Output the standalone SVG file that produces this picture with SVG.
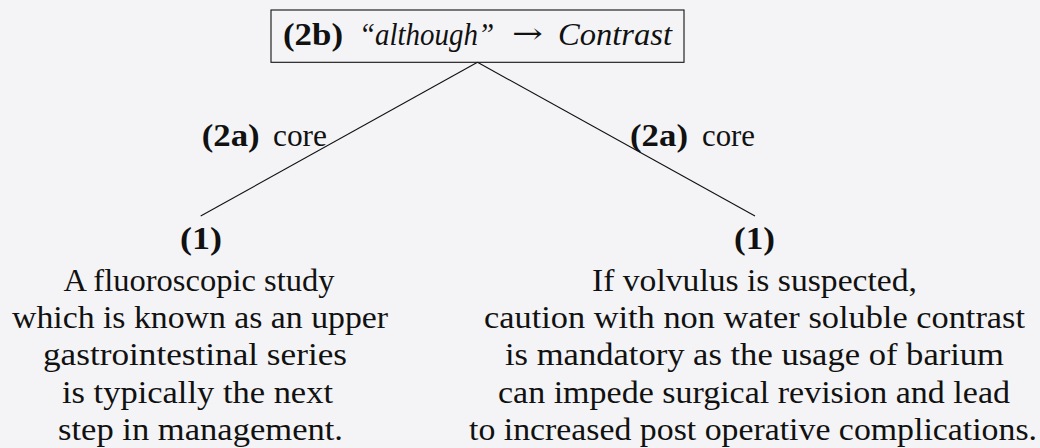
<svg xmlns="http://www.w3.org/2000/svg" width="1040" height="448" viewBox="0 0 1040 448">
<style>
.t{font-family:"Liberation Serif","Times New Roman",serif;font-size:30.5px;fill:#111}
.b{font-weight:bold}
.i{font-style:italic}
.m{text-anchor:middle}
.arr{font-family:"DejaVu Serif",serif;font-size:28px;fill:#111}
.edge{stroke:#111;stroke-width:1.1;fill:none}
</style>
<rect width="1040" height="448" fill="#f4f4f6"/>
<g id="connectors">
<line class="edge" x1="477.5" y1="62.3" x2="200.7" y2="216"/>
<line class="edge" x1="477.5" y1="62.3" x2="755" y2="216"/>
<text class="t b" x="201.7" y="146" textLength="58" lengthAdjust="spacingAndGlyphs">(2a)</text>
<text class="t" x="273" y="146" textLength="54" lengthAdjust="spacingAndGlyphs">core</text>
<text class="t b" x="630" y="146" textLength="58" lengthAdjust="spacingAndGlyphs">(2a)</text>
<text class="t" x="702" y="146" textLength="53" lengthAdjust="spacingAndGlyphs">core</text>
</g>
<g id="root">
<rect x="271" y="10" width="413" height="52.3" fill="none" stroke="#111" stroke-width="1.1"/>
<text class="t b" x="283" y="45" textLength="60" lengthAdjust="spacingAndGlyphs">(2b)</text>
<text class="t i" x="359" y="45" textLength="135" lengthAdjust="spacingAndGlyphs">“although”</text>
<text class="arr" x="512" y="43" textLength="31" lengthAdjust="spacingAndGlyphs">→</text>
<text class="t i" x="558" y="45" textLength="114" lengthAdjust="spacingAndGlyphs">Contrast</text>
</g>
<g id="left-leaf">
<text class="t b m" x="201" y="249" textLength="42" lengthAdjust="spacingAndGlyphs">(1)</text>
<text class="t m" x="199" y="291" textLength="271" lengthAdjust="spacingAndGlyphs">A fluoroscopic study</text>
<text class="t m" x="200" y="328" textLength="376" lengthAdjust="spacingAndGlyphs">which is known as an upper</text>
<text class="t m" x="195" y="365" textLength="304" lengthAdjust="spacingAndGlyphs">gastrointestinal series</text>
<text class="t m" x="197.5" y="403" textLength="271" lengthAdjust="spacingAndGlyphs">is typically the next</text>
<text class="t m" x="200.5" y="440" textLength="285" lengthAdjust="spacingAndGlyphs">step in management.</text>
</g>
<g id="right-leaf">
<text class="t b m" x="754.5" y="249" textLength="41" lengthAdjust="spacingAndGlyphs">(1)</text>
<text class="t m" x="754.5" y="291" textLength="325" lengthAdjust="spacingAndGlyphs">If volvulus is suspected,</text>
<text class="t m" x="754.5" y="328" textLength="541" lengthAdjust="spacingAndGlyphs">caution with non water soluble contrast</text>
<text class="t m" x="754.5" y="365" textLength="499" lengthAdjust="spacingAndGlyphs">is mandatory as the usage of barium</text>
<text class="t m" x="754" y="403" textLength="512" lengthAdjust="spacingAndGlyphs">can impede surgical revision and lead</text>
<text class="t m" x="753" y="440" textLength="568" lengthAdjust="spacingAndGlyphs">to increased post operative complications.</text>
</g>
</svg>
